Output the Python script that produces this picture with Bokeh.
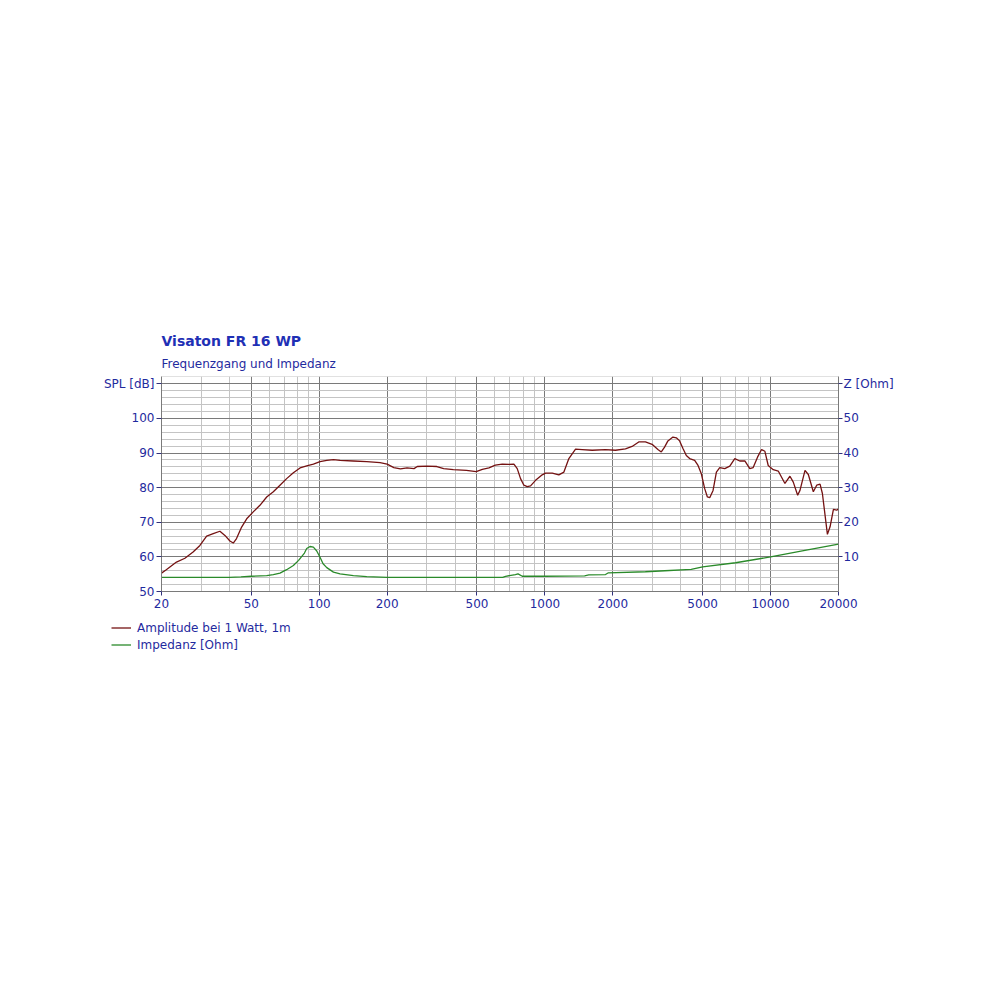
from bokeh.plotting import figure
from bokeh.layouts import column
from bokeh.models import (Range1d, LinearAxis, FixedTicker, BasicTickFormatter,
                          Title, Legend, LegendItem)
from bokeh.embed import file_html
from bokeh.resources import INLINE

# ---- data ----
spl_freq = [20, 21, 23.3, 25.4, 27.6, 29.6, 31.7, 33.9, 36.3, 38.2, 40.2, 41.6, 43.0, 45.3, 47.7,
            51, 54.6, 58.5, 62.6, 67, 71.7, 76.8, 82.2, 88, 94.2, 100.8, 108, 115.6, 123.7, 141.7,
            162.4, 186, 200, 214, 229, 245, 263, 272, 301, 332, 356, 393, 449, 496, 528, 565,
            603, 647, 693, 729, 754, 780, 807, 835, 864, 909, 973, 1007, 1078, 1153, 1214, 1277,
            1367, 1463, 1620, 1855, 2054, 2275, 2434, 2605, 2788, 2985, 3168, 3279, 3391, 3508,
            3693, 3823, 3954, 4091, 4233, 4380, 4610, 4771, 4935, 5106, 5248, 5375, 5561, 5754,
            5953, 6266, 6597, 6941, 7305, 7691, 8091, 8375, 8754, 9121, 9437, 9763, 10277, 10815,
            11580, 12188, 12610, 13183, 13500, 14210, 14700, 15470, 16010, 16570, 16970, 17440,
            17860, 18350, 18990, 19650, 20000]
spl_db = [55.3, 56.3, 58.5, 59.6, 61.4, 63.3, 66.0, 66.7, 67.4, 66.2, 64.6, 64.0, 65.3, 68.6, 71.0,
          73.0, 74.9, 77.3, 78.8, 80.7, 82.6, 84.3, 85.7, 86.3, 86.8, 87.5, 87.9, 88.1, 87.9, 87.7,
          87.5, 87.2, 86.8, 85.8, 85.4, 85.7, 85.5, 86.1, 86.2, 86.1, 85.5, 85.2, 85.0, 84.6, 85.3,
          85.7, 86.5, 86.8, 86.7, 86.8, 85.5, 82.6, 80.7, 80.3, 80.5, 82.1, 83.7, 84.2, 84.2, 83.7,
          84.5, 88.4, 91.1, 91.0, 90.8, 91.0, 90.8, 91.2, 91.9, 93.2, 93.2, 92.5, 91.0, 90.3, 91.7,
          93.5, 94.6, 94.4, 93.5, 91.3, 89.3, 88.4, 87.9, 86.4, 84.0, 79.7, 77.3, 77.1, 79.2, 84.5,
          85.8, 85.5, 86.2, 88.4, 87.7, 87.7, 85.5, 85.8, 88.8, 91.0, 90.5, 86.4, 85.2, 84.8,
          81.2, 83.3, 81.6, 77.8, 79.2, 85.0, 83.8, 78.8, 80.7, 81.0, 78.3, 72.0,
          66.5, 68.7, 73.7, 73.5, 73.9]

imp_freq = [20, 40, 45, 50, 58.5, 62.6, 67, 71.7, 76.8, 81, 86, 88, 91, 94.2, 97.5, 100.8, 104,
            108, 115.6, 123.7, 141.7, 162.4, 200, 650, 670, 740, 760, 794, 1000, 1500, 1565,
            1856, 1912, 2788, 3400, 4450, 5000, 7000, 10000, 14200, 20000]
imp_ohm = [4.1, 4.1, 4.2, 4.4, 4.6, 4.9, 5.3, 6.3, 7.5, 9.0, 11.1, 12.4, 13.0, 12.8, 11.7, 9.9, 8.0,
           6.9, 5.6, 5.1, 4.6, 4.3, 4.1, 4.1, 4.4, 4.9, 5.1, 4.4, 4.4, 4.5, 4.8,
           4.9, 5.4, 5.7, 6.0, 6.4, 7.1, 8.3, 10.0, 11.9, 13.7]

x_major = [20, 50, 100, 200, 500, 1000, 2000, 5000, 10000, 20000]
x_minor = [30, 40, 60, 70, 80, 90, 300, 400, 600, 700, 800, 900, 3000, 4000, 6000, 7000,
           8000, 9000]
spl_ticks = [50, 60, 70, 80, 90, 100, 110]
spl_minor = [52, 54, 56, 58, 62, 64, 66, 68, 72, 74, 76, 78, 82, 84, 86, 88, 92, 94, 96, 98,
             102, 104, 106, 108, 112]
z_ticks = [10, 20, 30, 40, 50, 60]

title_text = "Visaton FR 16 WP"
subtitle_text = "Frequenzgang und Impedanz"
spl_name = "Amplitude bei 1 Watt, 1m"
imp_name = "Impedanz [Ohm]"

BLUE = "#1f2a9e"
FONT = "DejaVu Sans"
SPL_COLOR = "#741212"
IMP_COLOR = "#2a8a2a"

W = 984
p = figure(width=W, height=615, x_axis_type="log", output_backend="svg", toolbar_location=None,
           x_range=Range1d(20, 20000), y_range=Range1d(50, 112.1),
           min_border_left=161, min_border_right=146, min_border_top=376, min_border_bottom=24)
p.outline_line_color = None
p.background_fill_color = "white"
p.border_fill_color = "white"
p.frame_align = False
p.extra_y_ranges = {"z": Range1d(0, 62.1)}

# grids
p.xgrid.ticker = FixedTicker(ticks=x_major, minor_ticks=x_minor)
p.xgrid.grid_line_color = "#7a7a7a"
p.xgrid.minor_grid_line_color = "#c4c4c4"
p.ygrid.ticker = FixedTicker(ticks=spl_ticks, minor_ticks=spl_minor)
p.ygrid.grid_line_color = "#7a7a7a"
p.ygrid.minor_grid_line_color = "#c4c4c4"

def style_axis(ax):
    ax.major_label_text_font = FONT
    ax.major_label_text_font_size = "12px"
    ax.major_label_text_color = BLUE
    ax.axis_line_color = "#7a7a7a"
    ax.major_tick_line_color = "#30307a"
    ax.minor_tick_line_color = None
    ax.major_tick_in = 0

# x axis
xa = p.xaxis[0]
xa.ticker = FixedTicker(ticks=x_major)
xa.formatter = BasicTickFormatter(use_scientific=False)
style_axis(xa)
xa.major_tick_out = 4
xa.major_label_standoff = 3

# left axis
ya = p.yaxis[0]
ya.ticker = FixedTicker(ticks=spl_ticks)
ya.major_label_overrides = {110: "SPL [dB]"}
style_axis(ya)
ya.major_tick_out = 5
ya.major_label_standoff = 2

# right axis
za = LinearAxis(y_range_name="z", ticker=FixedTicker(ticks=z_ticks))
za.major_label_overrides = {60: "Z [Ohm]"}
style_axis(za)
za.major_tick_out = 4
za.major_label_standoff = 1
p.add_layout(za, "right")

# curves
p.line(spl_freq, spl_db, line_color=SPL_COLOR, line_width=1.3)
p.line(imp_freq, imp_ohm, line_color=IMP_COLOR, line_width=1.3, y_range_name="z")

# titles (subtitle first -> closest to the frame)
p.add_layout(Title(text=subtitle_text, align="left", text_font=FONT, text_font_size="12px",
                   text_font_style="normal", text_color=BLUE, standoff=12, offset=0), "above")
p.add_layout(Title(text=title_text, align="left", text_font=FONT, text_font_size="14px",
                   text_font_style="bold", text_color="#1f30b5", standoff=0, offset=0), "above")

# legend strip below the chart (its lines lie outside its own visible range)
lg = figure(width=W, height=45, output_backend="svg", toolbar_location=None,
            x_range=Range1d(0, 1), y_range=Range1d(0, 1),
            x_axis_location=None, y_axis_location=None,
            min_border_left=0, min_border_right=0, min_border_top=0, min_border_bottom=0)
lg.frame_align = False
lg.outline_line_color = None
lg.xgrid.visible = False
lg.ygrid.visible = False
lg_spl = lg.line(spl_freq, spl_db, line_color=SPL_COLOR, line_width=1.3)
lg_imp = lg.line(imp_freq, imp_ohm, line_color=IMP_COLOR, line_width=1.3)
legend = Legend(items=[LegendItem(label=spl_name, renderers=[lg_spl]),
                       LegendItem(label=imp_name, renderers=[lg_imp])],
                location=(111, 7), orientation="vertical",
                padding=0, margin=0, spacing=0, glyph_width=20, glyph_height=17,
                label_height=17, label_standoff=6,
                label_text_font=FONT, label_text_font_size="12px", label_text_color=BLUE,
                border_line_color=None, background_fill_alpha=0)
lg.add_layout(legend, "center")

layout = column(p, lg, spacing=0)
open("out.html", "w").write(file_html(layout, INLINE))
